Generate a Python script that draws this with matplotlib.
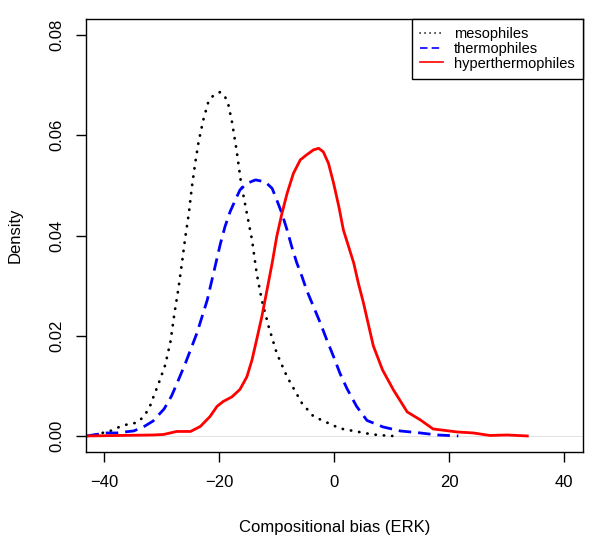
import numpy as np
import matplotlib
matplotlib.use("Agg")
import matplotlib.pyplot as plt

plt.rcParams['font.family'] = ['Liberation Sans', 'DejaVu Sans']

# density curves (x = ERK bias, y = density)
meso_x = [-41.7, -38.7, -37.4, -35.5, -34.4, -33.2, -32.4, -31.8, -31.3, -30.8,
          -29.4, -28.5, -27.8, -27.1, -26.5, -25.9, -25.3, -24.8, -24.2, -23.6,
          -22.8, -21.9, -21.0, -19.9, -19.1, -18.4, -17.8, -17.0, -16.2, -15.2,
          -14.3, -13.5, -12.6, -11.4, -10.0, -8.2, -5.6, -3.6, 1.0, 5.7, 7.5, 10.1]
meso_y = [0.0002, 0.0011, 0.0018, 0.0025, 0.0026, 0.0038, 0.0052, 0.0066, 0.0084, 0.0097,
          0.0142, 0.0188, 0.0245, 0.0295, 0.0345, 0.0398, 0.0444, 0.0494, 0.0544, 0.0587,
          0.0630, 0.0667, 0.0680, 0.0686, 0.0680, 0.0660, 0.0627, 0.0571, 0.0504, 0.0444,
          0.0391, 0.0325, 0.0271, 0.0218, 0.0165, 0.0118, 0.0065, 0.0039, 0.0015, 0.0005, 0.0002, 0.0]

thermo_x = [-43.1, -39.7, -37.8, -36.5, -34.9, -33.2, -31.5, -30.8, -29.6, -28.3,
            -27.1, -25.9, -25.0, -23.9, -23.0, -22.1, -21.0, -19.8, -19.0, -18.1,
            -17.2, -16.4, -15.2, -13.7, -12.0, -10.8, -10.0, -9.1, -8.2, -7.4,
            -6.5, -5.6, -4.8, -3.6, -2.4, -1.3, -0.1, 1.0, 2.2, 3.9,
            5.7, 8.5, 11.5, 15.0, 17.9, 21.6]
thermo_y = [0.0, 0.0006, 0.0006, 0.0008, 0.0010, 0.0018, 0.0030, 0.0039, 0.0054, 0.0080,
            0.0112, 0.0145, 0.0172, 0.0205, 0.0238, 0.0271, 0.0325, 0.0384, 0.0418, 0.0448,
            0.0471, 0.0491, 0.0504, 0.0511, 0.0507, 0.0494, 0.0471, 0.0444, 0.0411, 0.0378,
            0.0345, 0.0318, 0.0291, 0.0258, 0.0225, 0.0192, 0.0158, 0.0125, 0.0095, 0.0059,
            0.0031, 0.0018, 0.0010, 0.0006, 0.0002, 0.0]

hyper_x = [-43.1, -31.5, -29.7, -27.4, -25.0, -23.3, -21.6, -20.4, -19.3, -17.8,
           -16.4, -15.2, -14.3, -13.5, -12.6, -11.7, -10.8, -10.0, -9.1, -8.2,
           -7.1, -5.9, -4.8, -3.6, -2.7, -1.9, -1.0, -0.1, 0.8, 1.6,
           2.5, 3.4, 4.2, 5.1, 6.0, 6.8, 8.4, 10.3, 12.7, 15.0,
           17.2, 21.4, 24.2, 27.1, 30.1, 33.6]
hyper_y = [0.0, 0.0002, 0.0003, 0.0009, 0.0009, 0.0019, 0.0039, 0.0059, 0.0069, 0.0078,
           0.0093, 0.0118, 0.0152, 0.0192, 0.0238, 0.0291, 0.0345, 0.0398, 0.0444, 0.0484,
           0.0524, 0.0551, 0.0561, 0.0571, 0.0574, 0.0567, 0.0544, 0.0504, 0.0458, 0.0411,
           0.0378, 0.0345, 0.0305, 0.0265, 0.0220, 0.0180, 0.0132, 0.0092, 0.0048, 0.0032,
           0.0014, 0.0008, 0.0006, 0.0001, 0.0002, 0.0]

labels = ["mesophiles", "thermophiles", "hyperthermophiles"]
xticks = [-40, -20, 0, 20, 40]
yticks = [0.00, 0.02, 0.04, 0.06, 0.08]

fig = plt.figure(figsize=(6, 5.39), dpi=100)
ax = fig.add_axes([0.1433, 0.1614, 0.8284, 0.8033])

ax.axhline(0, color="#dddddd", lw=0.6, zorder=1)
ax.plot(meso_x, meso_y, color="black", lw=2, dashes=(0.1, 2.9),
        dash_capstyle="round", label=labels[0])
ax.plot(thermo_x, thermo_y, color="blue", lw=2, dashes=(4.5, 2.5), label=labels[1])
ax.plot(hyper_x, hyper_y, color="red", lw=2, label=labels[2])

ax.set_xlim(-43.2, 43.3)
ax.set_ylim(-0.0032, 0.0832)
ax.set_xticks(xticks)
ax.set_xticklabels(["\u221240", "\u221220", "0", "20", "40"])
ax.set_yticks(yticks)
ax.set_yticklabels(["0.00", "0.02", "0.04", "0.06", "0.08"], rotation=90, va="center")
ax.tick_params(length=7.5, width=1, labelsize=12)
ax.tick_params(axis="x", pad=9)
ax.tick_params(axis="y", pad=8)
for s in ax.spines.values():
    s.set_linewidth(1)

ax.set_xlabel("Compositional bias (ERK)", fontsize=12, labelpad=22)
ax.set_ylabel("Density", fontsize=12, labelpad=19)

leg = ax.legend(loc="upper right", bbox_to_anchor=(1, 1), borderaxespad=0,
                fontsize=10.5, fancybox=False, framealpha=1, edgecolor="black",
                handlelength=1.6, handletextpad=0.75, labelspacing=0.05,
                borderpad=0.55)
leg.get_frame().set_linewidth(1)
for ln in leg.get_lines():
    ln.set_linewidth(1.2)

fig.savefig("out.png", dpi=100)
